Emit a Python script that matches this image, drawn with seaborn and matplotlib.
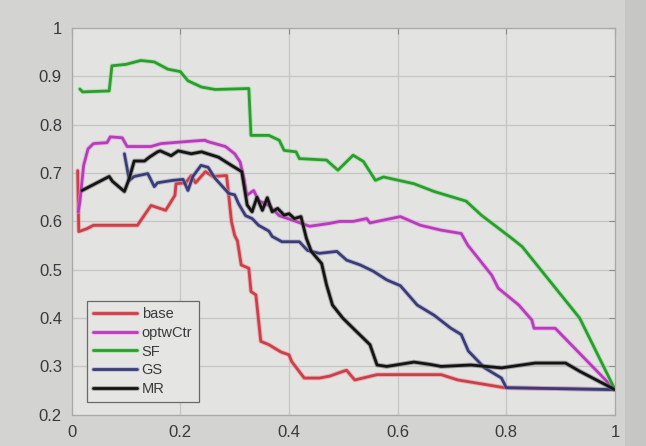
import matplotlib
matplotlib.use("Agg")
import matplotlib.pyplot as plt
import matplotlib.patheffects as pe
from matplotlib.patches import Rectangle
from matplotlib.ticker import FuncFormatter, MultipleLocator
import numpy as np
import pandas as pd
import seaborn as sns

# ---- data -------------------------------------------------------------
base_x = [0.011, 0.013, 0.028, 0.04, 0.121, 0.146, 0.173, 0.19, 0.192, 0.21,
          0.22, 0.228, 0.246, 0.26, 0.285, 0.289, 0.294, 0.30, 0.305, 0.312,
          0.326, 0.33, 0.339, 0.348, 0.363, 0.385, 0.40, 0.405, 0.428, 0.456,
          0.475, 0.50, 0.506, 0.521, 0.562, 0.68, 0.711, 0.797, 1.0]
base_y = [0.705, 0.579, 0.585, 0.592, 0.592, 0.633, 0.623, 0.654, 0.678, 0.68,
          0.695, 0.68, 0.703, 0.693, 0.695, 0.654, 0.60, 0.571, 0.56, 0.51,
          0.503, 0.455, 0.448, 0.352, 0.345, 0.33, 0.324, 0.31, 0.276, 0.276,
          0.28, 0.29, 0.292, 0.272, 0.283, 0.283, 0.272, 0.256, 0.252]

optw_x = [0.012, 0.015, 0.022, 0.03, 0.04, 0.065, 0.071, 0.093, 0.102, 0.146,
          0.164, 0.22, 0.245, 0.251, 0.283, 0.30, 0.31, 0.317, 0.322, 0.335,
          0.344, 0.363, 0.382, 0.413, 0.438, 0.475, 0.493, 0.518, 0.543, 0.549,
          0.605, 0.642, 0.68, 0.717, 0.729, 0.773, 0.785, 0.823, 0.847, 0.851,
          0.89, 1.0]
optw_y = [0.62, 0.64, 0.716, 0.75, 0.761, 0.763, 0.775, 0.773, 0.755, 0.755,
          0.761, 0.766, 0.768, 0.765, 0.755, 0.74, 0.723, 0.689, 0.654, 0.664,
          0.643, 0.633, 0.612, 0.60, 0.59, 0.596, 0.60, 0.60, 0.606, 0.597,
          0.61, 0.592, 0.582, 0.575, 0.551, 0.489, 0.462, 0.427, 0.396, 0.379,
          0.379, 0.252]

sf_x = [0.015, 0.02, 0.069, 0.074, 0.10, 0.127, 0.152, 0.177, 0.20, 0.214,
        0.239, 0.264, 0.326, 0.33, 0.363, 0.382, 0.391, 0.413, 0.419, 0.469,
        0.49, 0.518, 0.537, 0.559, 0.574, 0.63, 0.667, 0.726, 0.754, 0.81,
        0.829, 0.935, 1.0]
sf_y = [0.874, 0.868, 0.870, 0.922, 0.925, 0.933, 0.93, 0.915, 0.91, 0.891,
        0.878, 0.873, 0.875, 0.778, 0.778, 0.768, 0.747, 0.744, 0.73, 0.727,
        0.706, 0.737, 0.724, 0.685, 0.692, 0.678, 0.662, 0.642, 0.613, 0.565,
        0.548, 0.40, 0.252]

gs_x = [0.097, 0.106, 0.115, 0.14, 0.152, 0.158, 0.186, 0.205, 0.214, 0.223,
        0.238, 0.251, 0.264, 0.289, 0.30, 0.307, 0.32, 0.332, 0.344, 0.363,
        0.369, 0.387, 0.419, 0.434, 0.456, 0.488, 0.506, 0.531, 0.555, 0.58,
        0.605, 0.636, 0.667, 0.698, 0.717, 0.73, 0.76, 0.791, 0.80, 1.0]
gs_y = [0.74, 0.685, 0.693, 0.699, 0.672, 0.68, 0.685, 0.687, 0.664, 0.693,
        0.716, 0.712, 0.689, 0.658, 0.655, 0.637, 0.612, 0.606, 0.592, 0.58,
        0.569, 0.558, 0.558, 0.54, 0.534, 0.538, 0.52, 0.51, 0.497, 0.479,
        0.467, 0.427, 0.406, 0.379, 0.366, 0.332, 0.297, 0.276, 0.256, 0.252]

mr_x = [0.019, 0.069, 0.075, 0.097, 0.106, 0.115, 0.134, 0.143, 0.158, 0.163,
        0.183, 0.196, 0.22, 0.239, 0.27, 0.294, 0.313, 0.323, 0.332, 0.341,
        0.351, 0.360, 0.369, 0.379, 0.391, 0.40, 0.41, 0.422, 0.432, 0.441,
        0.46, 0.469, 0.48, 0.499, 0.518, 0.549, 0.562, 0.58, 0.63, 0.661,
        0.68, 0.735, 0.791, 0.853, 0.909, 0.935, 1.0]
mr_y = [0.664, 0.693, 0.683, 0.662, 0.689, 0.725, 0.725, 0.733, 0.744, 0.746,
        0.736, 0.746, 0.74, 0.744, 0.733, 0.716, 0.703, 0.634, 0.620, 0.650,
        0.623, 0.649, 0.620, 0.627, 0.613, 0.616, 0.606, 0.61, 0.565, 0.538,
        0.513, 0.469, 0.427, 0.40, 0.379, 0.345, 0.303, 0.30, 0.309, 0.304,
        0.30, 0.303, 0.297, 0.307, 0.307, 0.29, 0.252]

methods = ["base", "optwCtr", "SF", "GS", "MR"]
series = {
    "base": (base_x, base_y),
    "optwCtr": (optw_x, optw_y),
    "SF": (sf_x, sf_y),
    "GS": (gs_x, gs_y),
    "MR": (mr_x, mr_y),
}

line_colors = {"base": "#c9404a", "optwCtr": "#b23fb5", "SF": "#2e9a34",
               "GS": "#3b3d72", "MR": "#141414"}
halo_colors = {"base": "#f28a8f", "optwCtr": "#f08cf2", "SF": "#7fe57a",
               "GS": "#9a9ccf", "MR": "#6a6a6a"}

frames = []
for m in methods:
    xs, ys = series[m]
    frames.append(pd.DataFrame({"x": xs, "y": ys, "method": m}))
df = pd.concat(frames, ignore_index=True)

# ---- figure -----------------------------------------------------------
sns.set_style("white")
plt.rcParams["font.family"] = ["Liberation Sans", "DejaVu Sans"]

fig = plt.figure(figsize=(6.46, 4.46), dpi=100, facecolor="#d3d3d2")
ax = fig.add_axes([0.111, 0.07, 0.841, 0.867])
ax.set_facecolor("#e3e3e1")

# darker strip along the right edge of the window
fig.patches.append(Rectangle((0.968, 0), 0.032, 1, transform=fig.transFigure,
                             facecolor="#c6c6c5", edgecolor="none", zorder=-1))

sns.lineplot(data=df, x="x", y="y", hue="method", hue_order=methods,
             palette=line_colors, sort=False, estimator=None, units="method",
             linewidth=2.0, legend=False, ax=ax)

for line, m in zip(ax.get_lines(), methods):
    line.set_label(m)
    line.set_solid_joinstyle("round")
    line.set_path_effects([pe.Stroke(linewidth=3.4, foreground=halo_colors[m],
                                     alpha=0.55),
                           pe.Normal()])

ax.set_xlim(0, 1)
ax.set_ylim(0.2, 1)
ax.xaxis.set_major_locator(MultipleLocator(0.2))
ax.yaxis.set_major_locator(MultipleLocator(0.1))
fmt = FuncFormatter(lambda v, _: f"{v:g}")
ax.xaxis.set_major_formatter(fmt)
ax.yaxis.set_major_formatter(fmt)
ax.set_xlabel("")
ax.set_ylabel("")

ax.grid(True, color="#c5c5c4", linewidth=0.9)
ax.set_axisbelow(True)
for s in ax.spines.values():
    s.set_visible(True)
    s.set_color("#a9a9a8")
    s.set_linewidth(0.9)

ax.tick_params(axis="both", direction="in", length=4, width=0.8,
               color="#8a8a8a", labelsize=12, labelcolor="#3a3a3a", pad=7)
ax.tick_params(top=True, right=True, labeltop=False, labelright=False)

leg = ax.legend(loc="lower left", bbox_to_anchor=(0.028, 0.032),
                fontsize=10.5, frameon=True, fancybox=False,
                handlelength=3.0, handletextpad=0.3, labelspacing=0.32,
                borderpad=0.45, borderaxespad=0.0)
leg.get_frame().set_edgecolor("#6a6a6a")
leg.get_frame().set_facecolor("#e5e5e3")
leg.get_frame().set_linewidth(0.9)
leg.get_frame().set_alpha(1.0)
for t in leg.get_texts():
    t.set_color("#3a3a3a")

fig.savefig("out.png", dpi=100, facecolor=fig.get_facecolor())
